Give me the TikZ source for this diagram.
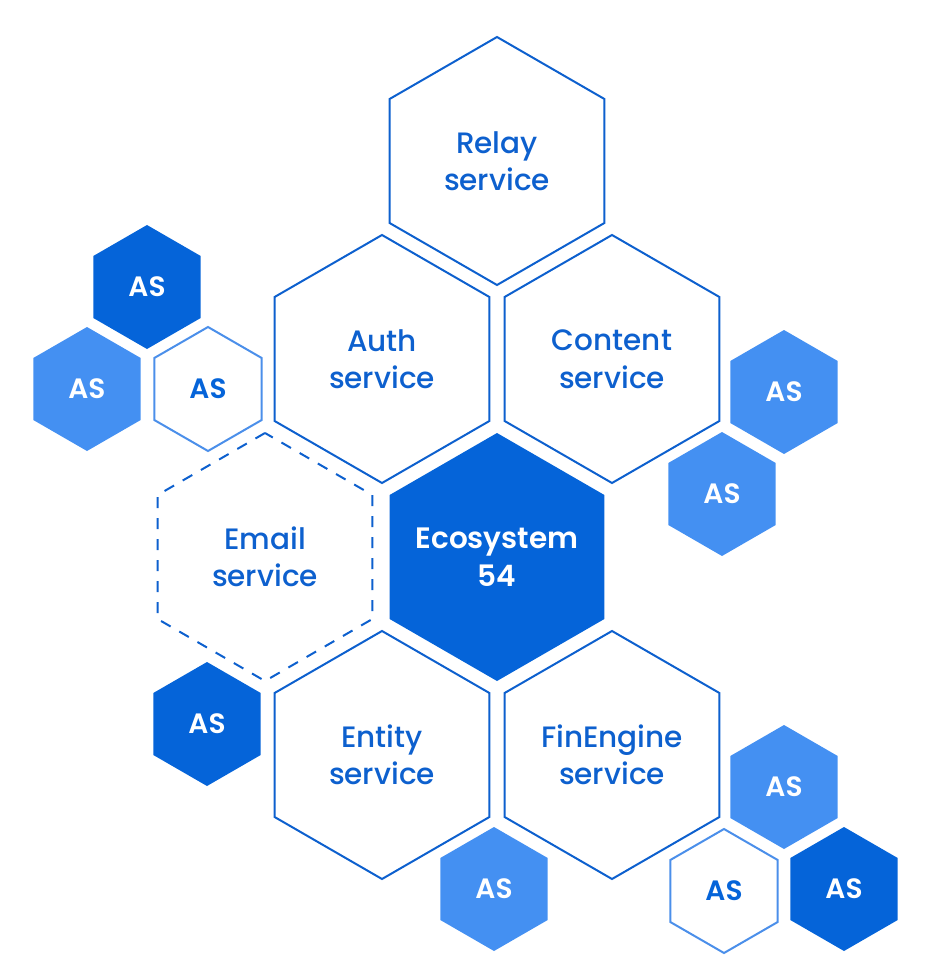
\documentclass[tikz,border=0pt]{standalone}
\usepackage{fontspec}
\setmainfont{Poppins}[UprightFont=* Medium, BoldFont=* SemiBold]
\usetikzlibrary{shapes.geometric}
\definecolor{hexdark}{HTML}{0564D9}
\definecolor{hexlight}{HTML}{4490F2}
\definecolor{hexline}{HTML}{0D60CE}
\definecolor{hexpale}{HTML}{4B8FEA}

\begin{document}
\begin{tikzpicture}[x=1pt,y=-1pt,
  hex/.style={regular polygon, regular polygon sides=6, shape border rotate=30,
    inner sep=0pt, line width=2pt, align=center},
  big/.style={hex, minimum size=248pt, draw=hexline, text=hexline,
    font=\fontsize{29.5pt}{37.5pt}\selectfont},
  small/.style={hex, minimum size=124pt, font=\bfseries\fontsize{28pt}{30pt}\selectfont},
  asdark/.style={small, fill=hexdark, text=white},
  aslight/.style={small, fill=hexlight, text=white},
  asline/.style={small, draw=hexpale, text=hexdark}]
  \useasboundingbox (0,0) rectangle (932,976);

  % service cells
  \node [big] (relay) at (497,161) {Relay\\service};
  \node [big] (auth) at (382,359) {Auth\\service};
  \node [big] (content) at (612,359) {Content\\service};
  \node [big, dash pattern=on 11pt off 10pt] (email) at (265,557) {Email\\service};
  \node [big, draw=none, fill=hexdark] (eco) at (497,557) {};
  \node [align=center, text=white, font=\bfseries\fontsize{29.5pt}{37.5pt}\selectfont]
    (ecotext) at (eco) {Ecosystem\\54};
  \node [big] (entity) at (382,755) {Entity\\service};
  \node [big] (fin) at (612,755) {FinEngine\\service};

  % AS cells
  \node [asdark] (as1) at (147,287) {AS};
  \node [aslight] (as2) at (87,389) {AS};
  \node [asline] (as3) at (208,389) {AS};
  \node [aslight] (as4) at (784,392) {AS};
  \node [aslight] (as5) at (722,494) {AS};
  \node [asdark] (as6) at (207,724) {AS};
  \node [aslight] (as7) at (494,889) {AS};
  \node [aslight] (as8) at (784,787) {AS};
  \node [asline] (as9) at (724,891) {AS};
  \node [asdark] (as10) at (844,889) {AS};
\end{tikzpicture}
\end{document}
